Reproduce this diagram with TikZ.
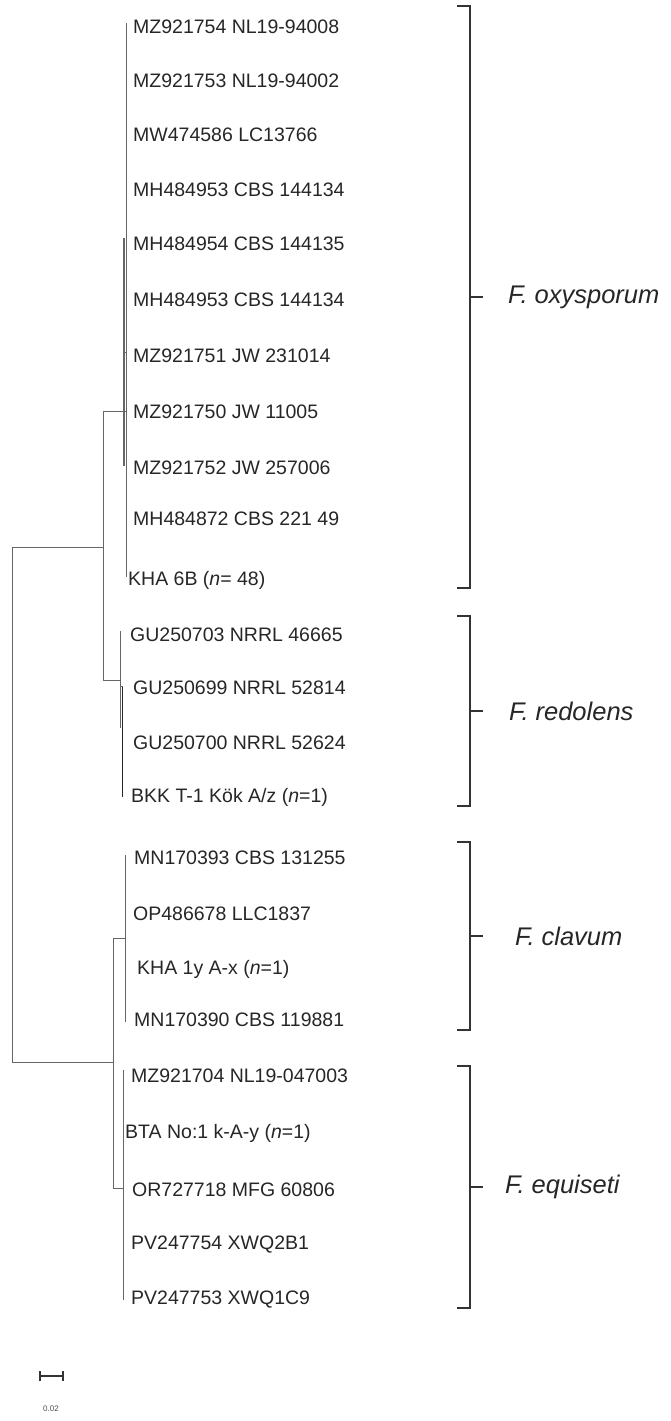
\documentclass[tikz,border=0pt]{standalone}
\usepackage{fontspec}
\setmainfont{Liberation Sans}
\tikzset{
  br/.style={draw=black!80, line width=1.4pt},
  edge/.style={draw=black!60, line width=1pt},
  leaf/.style={anchor=west, inner sep=0pt, font=\fontsize{19.5}{19.5}\selectfont, text=black!85},
  clade/.style={anchor=west, inner sep=0pt, font=\fontsize{25.5}{25.5}\selectfont\itshape, text=black!85}
}
\begin{document}
\begin{tikzpicture}[x=1pt,y=-1pt]
\useasboundingbox (0,0) rectangle (671,1421);
% leaves
\node[leaf] (l1) at (133,27) {MZ921754 NL19-94008};
\node[leaf] (l2) at (133,81) {MZ921753 NL19-94002};
\node[leaf] (l3) at (133,135) {MW474586 LC13766};
\node[leaf] (l4) at (133,190) {MH484953 CBS 144134};
\node[leaf] (l5) at (133,244) {MH484954 CBS 144135};
\node[leaf] (l6) at (133,300) {MH484953 CBS 144134};
\node[leaf] (l7) at (133,356) {MZ921751 JW 231014};
\node[leaf] (l8) at (133,412) {MZ921750 JW 11005};
\node[leaf] (l9) at (133,468) {MZ921752 JW 257006};
\node[leaf] (l10) at (133,519) {MH484872 CBS 221 49};
\node[leaf] (l11) at (128,580) {KHA 6B (\textit{n}= 48)};
\node[leaf] (l12) at (130,635) {GU250703 NRRL 46665};
\node[leaf] (l13) at (133,688) {GU250699 NRRL 52814};
\node[leaf] (l14) at (133,743) {GU250700 NRRL 52624};
\node[leaf] (l15) at (131,797) {BKK T-1 Kök A/z (\textit{n}=1)};
\node[leaf] (l16) at (134,858) {MN170393 CBS 131255};
\node[leaf] (l17) at (133,914) {OP486678 LLC1837};
\node[leaf] (l18) at (137,969) {KHA 1y A-x (\textit{n}=1)};
\node[leaf] (l19) at (134,1020) {MN170390 CBS 119881};
\node[leaf] (l20) at (131,1076) {MZ921704 NL19-047003};
\node[leaf] (l21) at (125,1133) {BTA No:1 k-A-y (\textit{n}=1)};
\node[leaf] (l22) at (132,1190) {OR727718 MFG 60806};
\node[leaf] (l23) at (131,1245) {PV247754 XWQ2B1};
\node[leaf] (l24) at (131,1300) {PV247753 XWQ1C9};
% internal nodes
\coordinate (root) at (12,805);
\coordinate (nA) at (103,547);
\coordinate (nB) at (113,1062);
\coordinate (oxy) at (126.5,411);
\coordinate (red) at (120.5,680);
\coordinate (cla) at (125,938);
\coordinate (equ) at (123,1188);
% tree
\draw[edge] (nA) -- (root |- nA) -- (root |- nB) -- (nB);
\draw[edge] (oxy) -- (nA |- oxy) -- (nA |- red) -- (red);
\draw[edge] (cla) -- (nB |- cla) -- (nB |- equ) -- (equ);
% oxysporum clade
\draw[edge] (126.5,23) -- (126.5,577);
\draw[edge, line width=1.6pt] (124,238) -- (124,466);
\draw[edge] (124,352) -- (126.5,352);
% redolens clade
\draw[edge, line width=1.3pt] (120.5,631) -- (120.5,728);
\draw[edge, draw=black!85, line width=1.2pt] (122.5,686) -- (122.5,797);
\draw[edge] (120.5,686) -- (122.5,686);
% clavum clade
\draw[edge] (125,855) -- (125,1022);
% equiseti clade
\draw[edge] (123,1070) -- (123,1300);
% brackets
\draw[br] (457,6) -- (470,6) -- (470,588) -- (457,588);
\draw[br] (470,297) -- (483,297);
\node[clade] (c1) at (508,297) {F. oxysporum};
\draw[br] (457,616) -- (470,616) -- (470,806) -- (457,806);
\draw[br] (470,711) -- (483,711);
\node[clade] (c2) at (509,711) {F. redolens};
\draw[br] (457,842) -- (470,842) -- (470,1030) -- (457,1030);
\draw[br] (470,936) -- (483,936);
\node[clade] (c3) at (515,936) {F. clavum};
\draw[br] (457,1066) -- (470,1066) -- (470,1308) -- (457,1308);
\draw[br] (470,1187) -- (483,1187);
\node[clade] (c4) at (505,1187) {F. equiseti};
% scale bar
\coordinate (sb1) at (40,1376);
\coordinate (sb2) at (63,1376);
\draw[draw=black!80, line width=1.3pt] (sb1) -- (sb2);
\draw[draw=black!80, line width=1.3pt] ([yshift=-5pt]sb1) -- ([yshift=5pt]sb1);
\draw[draw=black!80, line width=1.3pt] ([yshift=-5pt]sb2) -- ([yshift=5pt]sb2);
\node[font=\fontsize{8}{8}\selectfont, text=black!70, inner sep=0pt] (sbl) at (51,1409) {0.02};
\end{tikzpicture}
\end{document}
